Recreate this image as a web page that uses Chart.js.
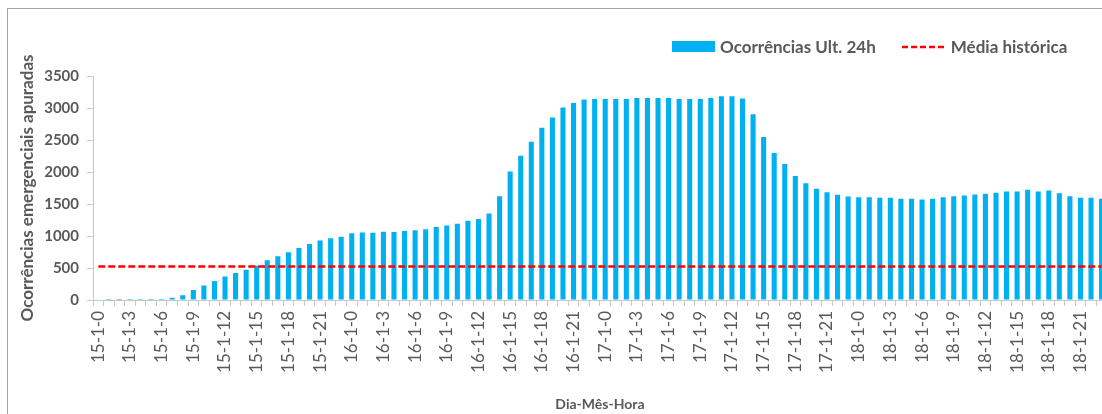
<!DOCTYPE html>
<html lang="pt">
<head>
<meta charset="utf-8">
<title>Ocorrências emergenciais apuradas</title>
<script src="https://cdn.jsdelivr.net/npm/chart.js@4/dist/chart.umd.min.js"></script>
<style>
  html, body { margin: 0; padding: 0; background: #fff; overflow: hidden; width: 1102px; height: 414px; }
  #frame { position: absolute; left: 7px; top: 8px; width: 1200px; height: 500px;
           border-left: 1px solid #a6a6a6; border-top: 1px solid #a6a6a6; }
  #wrap { position: absolute; left: 0; top: 0; width: 1127px; height: 414px; }
  #legend { position: absolute; left: 672px; top: 36px; display: flex; align-items: center;
            font: bold 17px Lato, sans-serif; color: #595959; white-space: nowrap; }
  #legend .item { display: flex; align-items: center; }
  #legend .item + .item { margin-left: 26px; }
  #legend .swatch { display: inline-block; width: 43px; height: 11px; margin-right: 5px; }
  #legend svg { margin-right: 5px; }
</style>
</head>
<body>
<div id="frame"></div>
<div id="wrap"><canvas id="chart" width="1127" height="414"></canvas></div>
<div id="legend"></div>
<script>
// Hourly categories: day-month-hour
const days = [15, 16, 17, 18];
const month = 1;
const hours = [0, 1, 2, 3, 4, 5, 6, 7, 8, 9, 10, 11, 12, 13, 14, 15, 16, 17, 18, 19, 20, 21, 22, 23];
const categories = days.flatMap(d => hours.map(h => `${d}-${month}-${h}`));

// Occurrences counted over the last 24 hours, one value per hour
const occurrences = [
  0, 15, 15, 15, 15, 15, 15, 36, 73, 155, 228, 295, 368, 420, 472, 534, 622, 684, 746, 814, 876, 928, 964, 990,
  1042, 1055, 1052, 1068, 1063, 1078, 1089, 1104, 1140, 1166, 1192, 1239, 1265, 1353, 1623, 2006, 2255, 2473, 2691, 2851,
  3007, 3079, 3131, 3142, 3142, 3142, 3142, 3157, 3157, 3157, 3157, 3142, 3142, 3142, 3157, 3183, 3183, 3147, 2903, 2545,
  2297, 2125, 1939, 1825, 1737, 1685, 1643, 1617, 1607, 1607, 1597, 1597, 1581, 1581, 1571, 1581, 1607, 1623, 1633, 1649,
  1659, 1674, 1695, 1695, 1721, 1695, 1711, 1669, 1623, 1597, 1597, 1581
];

// Historical average (constant reference level)
const historicalMean = 525;
const meanSeries = categories.map(() => historicalMean);

// Value axis
const yMin = 0, yMax = 3500, yStep = 500;

const textColor = '#595959';
const axisColor = '#c8c8c8';

const htmlLegend = {
  id: 'htmlLegend',
  afterUpdate(chart) {
    const box = document.getElementById('legend');
    box.innerHTML = '';
    chart.data.datasets.forEach(ds => {
      const item = document.createElement('div');
      item.className = 'item';
      if (ds.type === 'bar') {
        const sw = document.createElement('span');
        sw.className = 'swatch';
        sw.style.background = ds.backgroundColor;
        item.appendChild(sw);
      } else {
        const ns = 'http://www.w3.org/2000/svg';
        const svg = document.createElementNS(ns, 'svg');
        svg.setAttribute('width', '44');
        svg.setAttribute('height', '6');
        const ln = document.createElementNS(ns, 'line');
        ln.setAttribute('x1', '0'); ln.setAttribute('y1', '3');
        ln.setAttribute('x2', '44'); ln.setAttribute('y2', '3');
        ln.setAttribute('stroke', ds.borderColor);
        ln.setAttribute('stroke-width', ds.borderWidth);
        ln.setAttribute('stroke-dasharray', '6 3');
        svg.appendChild(ln);
        item.appendChild(svg);
      }
      const t = document.createElement('span');
      t.textContent = ds.label;
      item.appendChild(t);
      box.appendChild(item);
    });
  }
};

new Chart(document.getElementById('chart'), {
  data: {
    labels: categories,
    datasets: [
      {
        type: 'bar',
        label: 'Ocorrências Ult. 24h',
        data: occurrences,
        backgroundColor: '#00b0f0',
        categoryPercentage: 1,
        barPercentage: 0.48,
        order: 2
      },
      {
        type: 'line',
        label: 'Média histórica',
        data: meanSeries,
        borderColor: '#ff0000',
        borderWidth: 2.5,
        borderDash: [7, 3],
        pointRadius: 0,
        fill: false,
        order: 1
      }
    ]
  },
  options: {
    responsive: false,
    animation: false,
    layout: { padding: { top: 76, right: 3, bottom: 0, left: 0 } },
    plugins: { legend: { display: false }, tooltip: { enabled: false } },
    scales: {
      x: {
        grid: { display: true, drawOnChartArea: false, offset: true, color: axisColor, tickLength: 6 },
        border: { color: axisColor },
        ticks: {
          autoSkip: false, minRotation: 90, maxRotation: 90, padding: 5,
          color: textColor, font: { family: 'Lato', size: 17 },
          callback: (v, i) => (i % 3 === 0 ? categories[i] : '')
        },
        title: {
          display: true, text: 'Dia-Mês-Hora', color: textColor,
          font: { family: 'Lato', size: 14, weight: 'bold' }, padding: { top: 0, bottom: 1 }
        },
        afterFit: s => { s.height = 114; }
      },
      y: {
        min: yMin, max: yMax,
        ticks: {
          stepSize: yStep, padding: 8, color: textColor,
          font: { family: 'Lato', size: 15, weight: 'bold' },
          callback: v => String(v)
        },
        grid: { drawOnChartArea: false, color: axisColor, tickLength: 6 },
        border: { color: axisColor },
        title: {
          display: true, text: 'Ocorrências emergenciais apuradas', color: textColor,
          font: { family: 'Lato', size: 17, weight: 'bold' }, padding: { top: 17, bottom: 0 }
        },
        afterFit: s => { s.width = 93; }
      }
    }
  },
  plugins: [htmlLegend]
});
</script>
</body>
</html>
